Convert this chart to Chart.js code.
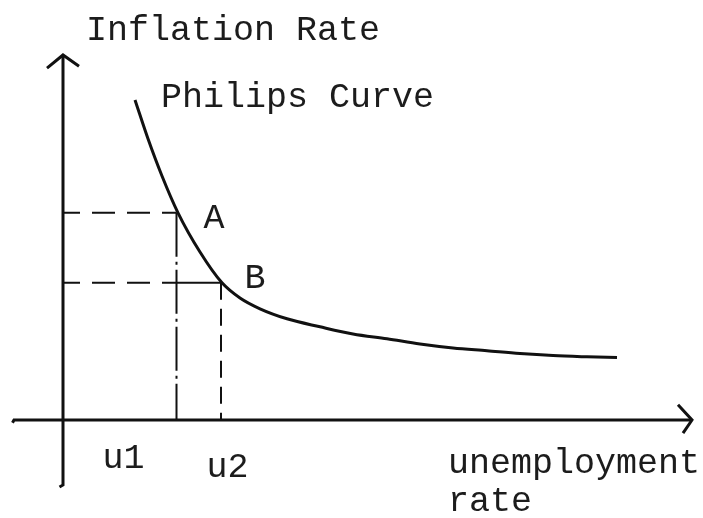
<!DOCTYPE html>
<html>
<head>
<meta charset="utf-8">
<script src="https://cdn.jsdelivr.net/npm/chart.js@4/dist/chart.umd.min.js"></script>
<style>
  html, body { margin: 0; padding: 0; background: #fff; }
  #wrap { width: 703px; height: 518px; }
</style>
</head>
<body>
<div id="wrap"><canvas id="phillips-chart"></canvas></div>
<script>
// unemployment rate (x) and inflation rate (y), arbitrary units
const curveUnemployment = [1.44, 1.70, 1.98, 2.30, 2.74, 3.18, 3.54, 3.94, 4.48, 5.14, 5.80, 6.48, 7.14, 7.80, 8.48, 9.14, 9.80, 10.48, 11.08];
const curveInflation = [8.0, 7.03, 6.1, 5.18, 4.2, 3.43, 3.05, 2.78, 2.53, 2.33, 2.15, 2.03, 1.9, 1.8, 1.73, 1.66, 1.61, 1.58, 1.56];

const pointNames = ['A', 'B'];
const pointUnemployment = [2.27, 3.16]; // u1, u2
const pointInflation = [5.18, 3.43];
const tickLabels = ['u1', 'u2'];

const xAxisRange = [-0.98, 12.58];
const yAxisRange = [-1.625, 9.125];

const ink = '#111';
const textInk = '#1c1c1c';
const font = '35px "Liberation Mono", "DejaVu Sans Mono", monospace';

const pts = (xs, ys) => xs.map((x, i) => ({ x, y: ys[i] }));

const line = (data, extra = {}) => ({
  data,
  showLine: true,
  borderColor: ink,
  borderWidth: 2,
  pointRadius: 0,
  fill: false,
  ...extra,
});

const [uA, uB] = pointUnemployment;
const [iA, iB] = pointInflation;

const datasets = [
  // axes
  line([{ x: xAxisRange[0] - 0.03, y: -0.07 }, { x: xAxisRange[0], y: 0 }, { x: xAxisRange[1], y: 0 }], { borderWidth: 3 }),
  line([{ x: -0.07, y: yAxisRange[0] - 0.05 }, { x: 0, y: yAxisRange[0] }, { x: 0, y: yAxisRange[1] }], { borderWidth: 3 }),
  // arrow heads
  line([{ x: xAxisRange[1] - 0.28, y: 0.38 }, { x: xAxisRange[1], y: 0 }, { x: xAxisRange[1] - 0.18, y: -0.33 }], { borderWidth: 3 }),
  line([{ x: -0.32, y: yAxisRange[1] - 0.33 }, { x: 0, y: yAxisRange[1] }, { x: 0.32, y: yAxisRange[1] - 0.28 }], { borderWidth: 3 }),
  // guides to A
  line([{ x: 0, y: iA }, { x: uA, y: iA }], { borderDash: [23, 12], borderDashOffset: 6 }),
  line([{ x: uA, y: iA }, { x: uA, y: 0 }], { borderDash: [44, 5, 3, 5] }),
  // guides to B
  line([{ x: 0, y: iB }, { x: uA, y: iB }], { borderDash: [23, 12], borderDashOffset: 6 }),
  line([{ x: uA, y: iB }, { x: uB, y: iB }]),
  line([{ x: uB, y: iB }, { x: uB, y: 0 }], { borderDash: [17, 9] }),
  // Phillips curve
  line(pts(curveUnemployment, curveInflation), { borderWidth: 3, cubicInterpolationMode: 'monotone' }),
];

// text labels, anchored in data units
const labels = [
  { text: 'Inflation Rate', x: 0.46, y: 9.5, align: 'left' },
  { text: 'Philips Curve', x: 1.96, y: 7.82, align: 'left' },
  { text: pointNames[0], x: uA + 0.75, y: iA - 0.37, align: 'center' },
  { text: pointNames[1], x: uB + 0.68, y: iB - 0.12, align: 'center' },
  { text: tickLabels[0], x: uA - 1.06, y: -1.2, align: 'center' },
  { text: tickLabels[1], x: uB + 0.13, y: -1.42, align: 'center' },
  { text: 'unemployment', x: 7.7, y: -1.32, align: 'left' },
  { text: 'rate', x: 7.7, y: -2.27, align: 'left' },
];

const labelPlugin = {
  id: 'labels',
  afterDatasetsDraw(chart) {
    const { ctx, scales } = chart;
    ctx.save();
    ctx.font = font;
    ctx.fillStyle = textInk;
    ctx.textBaseline = 'alphabetic';
    labels.forEach((l) => {
      ctx.textAlign = l.align;
      ctx.fillText(l.text, scales.x.getPixelForValue(l.x), scales.y.getPixelForValue(l.y));
    });
    ctx.restore();
  },
};

const canvas = document.getElementById('phillips-chart').getContext('2d');
/* global Chart */
(() => new Chart(canvas, {
  type: 'scatter',
  data: { datasets },
  options: {
    responsive: true,
    maintainAspectRatio: false,
    animation: false,
    layout: { padding: 0 },
    plugins: { legend: { display: false }, tooltip: { enabled: false } },
    scales: {
      x: { type: 'linear', display: false, min: -1.26, max: 12.8 },
      y: { type: 'linear', display: false, min: -2.45, max: 10.5 },
    },
  },
  plugins: [labelPlugin],
}))();
</script>
</body>
</html>
